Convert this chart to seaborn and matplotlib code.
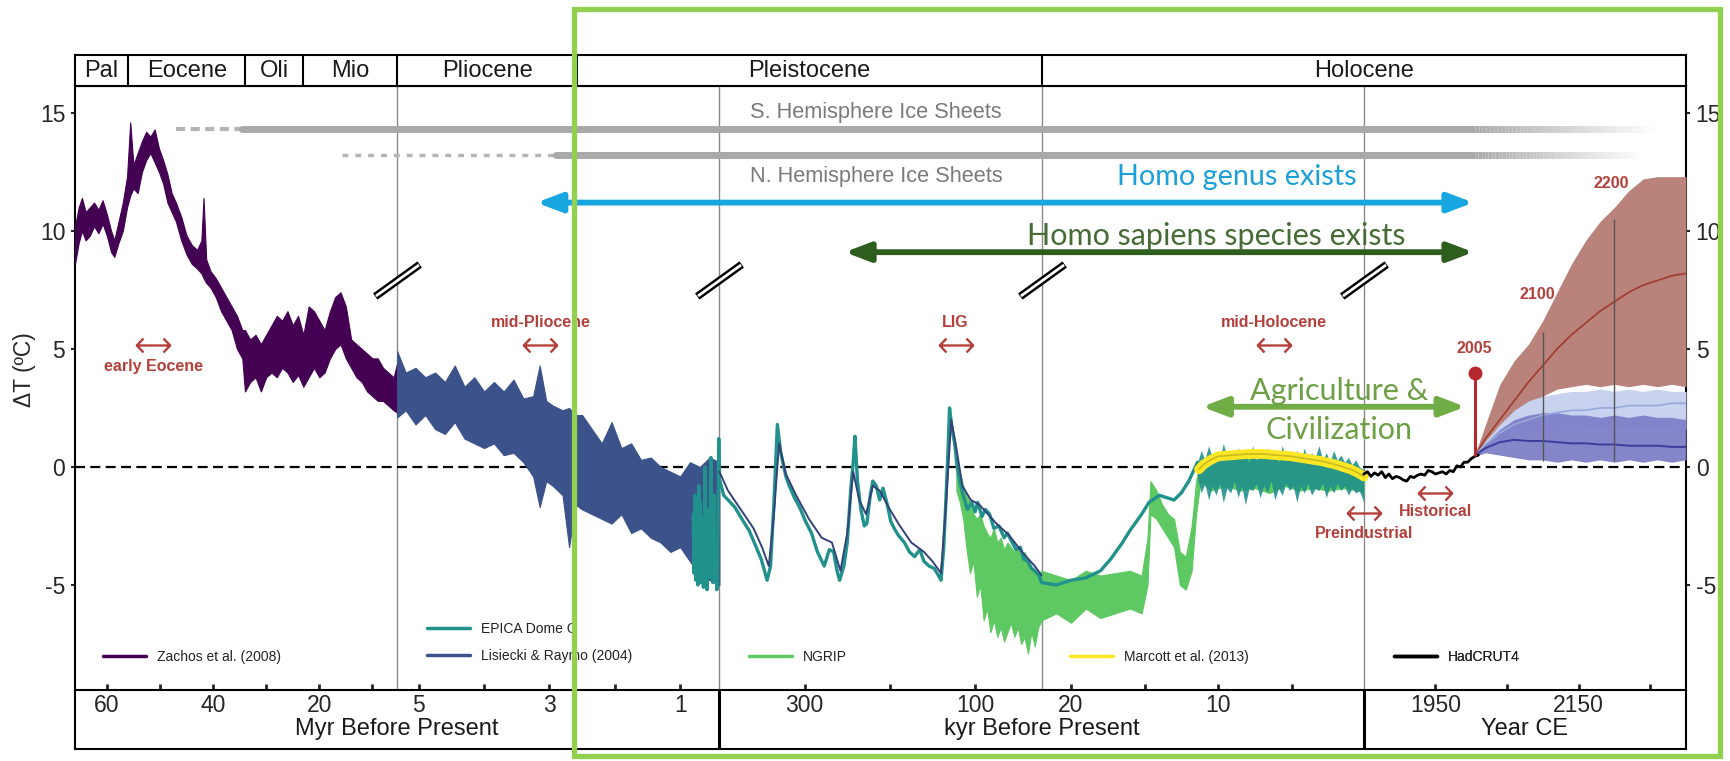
import numpy as np
import matplotlib
matplotlib.use("Agg")
import matplotlib.pyplot as plt
from matplotlib.path import Path
from matplotlib.patches import Rectangle, FancyArrowPatch
from matplotlib.collections import LineCollection
from matplotlib.colors import to_rgb
from matplotlib.lines import Line2D
import seaborn as sns

sns.set_theme(style="white")
plt.rcParams['font.family'] = ['Liberation Sans', 'DejaVu Sans']
plt.rcParams['axes.unicode_minus'] = False

# ------------------------------------------------------------------ data
# Zachos et al. (2008), Myr before present: lower / upper edge of the noisy band
zachos_age = [66.0, 65.3, 64.7, 64.0, 63.2, 62.4, 61.6, 60.8, 60.0, 59.2,
              58.6, 57.8, 57.0, 56.2, 55.6, 55.0, 54.2, 53.4, 52.6, 51.8,
              51.0, 50.2, 49.4, 48.6, 47.8, 47.0, 46.0, 45.0, 44.0, 43.0,
              42.2, 41.8, 41.3, 40.5, 39.5, 38.5, 37.5, 36.5, 35.5, 34.5,
              34.0, 33.0, 32.0, 31.0, 30.0, 29.0, 28.0, 27.0, 26.0, 25.0,
              24.0, 23.0, 22.0, 21.0, 20.0, 19.0, 18.0, 17.0, 16.0, 15.0,
              14.0, 13.0, 12.0, 11.0, 10.0, 9.0, 8.0, 7.0, 6.0, 5.33]
zachos_lo = [8.6, 9.5, 10.0, 9.6, 9.8, 10.2, 9.9, 10.3, 9.8, 9.1,
             8.9, 9.5, 10.0, 11.0, 11.5, 11.8, 11.6, 12.5, 13.0, 13.3,
             12.9, 12.5, 12.0, 11.2, 10.8, 10.4, 9.6, 9.0, 8.6, 8.4,
             8.2, 8.0, 7.8, 7.6, 7.2, 6.6, 6.2, 5.8, 5.0, 4.6,
             3.2, 3.6, 3.8, 3.2, 3.8, 4.0, 3.8, 4.2, 4.0, 3.6,
             3.9, 3.4, 3.8, 4.2, 3.8, 4.0, 4.6, 5.0, 5.2, 4.6,
             4.2, 3.8, 3.6, 3.2, 3.0, 2.8, 2.8, 2.6, 2.4, 2.3]
zachos_hi = [10.2, 11.0, 11.4, 10.8, 11.0, 11.2, 10.9, 11.3, 10.7, 10.0,
             9.6, 10.4, 11.2, 12.3, 14.6, 12.8, 13.3, 13.8, 14.2, 14.0,
             14.3, 13.5, 13.0, 12.4, 11.6, 11.2, 10.6, 9.8, 9.4, 9.2,
             9.6, 11.4, 8.8, 8.3, 8.0, 7.6, 7.2, 6.8, 6.4, 5.8,
             5.8, 5.4, 5.6, 5.2, 5.6, 6.0, 6.4, 6.2, 6.6, 6.0,
             6.4, 5.6, 6.8, 6.6, 6.2, 5.8, 6.6, 7.2, 7.4, 6.8,
             5.4, 5.2, 5.0, 4.8, 4.6, 4.6, 4.2, 4.0, 3.8, 4.4]

# Lisiecki & Raymo (2004), Myr before present (band)
lr04_age = [5.33, 5.20, 5.05, 4.90, 4.75, 4.60, 4.45, 4.30, 4.15, 4.00,
            3.85, 3.70, 3.55, 3.40, 3.25, 3.15, 3.05, 2.95, 2.80, 2.70,
            2.60, 2.50, 2.35, 2.20, 2.05, 1.90, 1.75, 1.60, 1.45, 1.30,
            1.15, 1.00, 0.85, 0.70, 0.55, 0.40]
lr04_lo = [2.1, 2.4, 1.8, 2.2, 1.6, 1.4, 1.9, 1.2, 1.0, 0.8,
           1.0, 0.5, 0.6, 0.2, -0.4, -1.7, -0.6, -0.8, -1.2, -3.4,
           -1.6, -1.8, -2.0, -2.2, -2.4, -2.0, -2.8, -2.6, -3.0, -3.2,
           -3.6, -3.4, -4.0, -4.6, -4.8, -5.0]
lr04_hi = [4.9, 4.0, 4.2, 3.8, 4.0, 3.6, 4.3, 3.4, 3.8, 3.2,
           3.6, 3.2, 3.7, 2.9, 3.0, 4.3, 2.8, 2.6, 2.4, 2.5,
           2.2, 2.2, 1.6, 1.0, 1.9, 0.8, 1.0, 0.3, 0.4, 0.0,
           -0.2, -0.4, 0.2, 0.0, 0.4, 0.2]
# Lisiecki & Raymo, kyr before present (line)
lr04k_kyr = [400, 390, 375, 360, 350, 342, 336, 330, 322, 310,
             295, 280, 268, 258, 250, 243, 236, 228, 220, 212,
             200, 190, 175, 160, 150, 140, 134, 128, 122, 115,
             105, 95, 85, 75, 60, 45, 30, 22]
lr04k_val = [-0.2, -1.0, -1.8, -2.6, -3.4, -4.2, -2.0, 1.0, -0.3, -1.2,
             -2.2, -3.0, -3.2, -4.4, -2.8, -0.2, -1.4, -2.0, -0.8, -1.0,
             -1.8, -2.4, -3.2, -3.6, -4.0, -4.5, -1.5, 2.0, 0.8, -0.8,
             -1.4, -1.6, -2.0, -2.4, -2.9, -3.6, -4.2, -4.6]

# EPICA Dome C, kyr before present
epica_kyr = [800, 790, 775, 760, 745, 730, 715, 700, 690, 675,
             660, 645, 630, 620, 605, 590, 575, 560, 545, 530,
             515, 500, 485, 470, 455, 440, 430, 420, 410, 400,
             395, 382, 372, 365, 358, 351, 344, 340, 336, 332,
             328, 322, 318, 312, 306, 299, 292, 285, 277, 271,
             266, 262, 259, 254, 250, 246, 243, 241, 238, 234,
             230, 227, 223, 220, 216, 212, 208, 203, 199, 195,
             190, 183, 177, 171, 165, 160, 154, 148, 143, 140,
             137, 135, 132, 130, 127, 124, 121, 118, 114, 109,
             104, 100, 97, 92, 88, 83, 78, 72, 66, 62,
             58, 52, 47, 43, 38, 34, 30, 25,
             22, 21, 20, 19, 18, 17.3, 16.5, 16, 15.2, 14.7,
             14, 13.5, 13, 12.5, 12, 11.4]
epica_val = [-2.0, -4.5, -1.2, -4.8, -2.5, -5.0, -0.8, -4.6, -1.5, -4.9,
             -2.2, -5.1, -3.0, 0.0, -3.5, -5.2, -1.8, -4.7, -2.5, 0.4,
             -3.0, -4.9, -1.2, -4.5, -3.2, -5.2, -5.1, -2.0, 1.2, -0.5,
             -1.2, -1.7, -2.3, -2.7, -3.3, -3.9, -4.8, -4.2, -1.5, 1.8,
             0.6, -0.4, -0.8, -1.3, -1.7, -2.3, -2.8, -3.6, -4.2, -3.5,
             -3.6, -4.4, -4.8, -4.2, -3.2, -1.0, 0.2, 1.3, -0.6, -1.8,
             -2.5, -2.4, -1.2, -0.6, -0.8, -1.4, -0.9, -1.6, -2.3, -2.6,
             -2.9, -3.2, -3.6, -3.8, -3.5, -4.0, -4.2, -4.3, -4.6, -4.8,
             -3.5, -2.0, 0.5, 2.5, 1.6, 1.0, 0.0, -0.6, -1.2, -1.8,
             -1.5, -1.9, -1.5, -2.1, -1.8, -2.0, -2.6, -2.5, -3.0, -2.8,
             -3.1, -3.5, -3.4, -3.9, -4.0, -4.3, -4.4, -4.6,
             -4.9, -5.0, -4.8, -4.7, -4.4, -3.9, -3.2, -2.7, -2.0, -1.5,
             -1.2, -1.3, -1.4, -1.1, -0.6, 0.2]
# Holocene part of the ice-core band (kyr)
holo_kyr = [11.4, 11.15, 10.9, 10.65, 10.4, 10.15, 9.9, 9.65, 9.4, 9.15,
            8.9, 8.65, 8.4, 8.15, 7.9, 7.65, 7.4, 7.15, 6.9, 6.65,
            6.4, 6.15, 5.9, 5.65, 5.4, 5.15, 4.9, 4.65, 4.4, 4.15,
            3.9, 3.65, 3.4, 3.15, 2.9, 2.65, 2.4, 2.15, 1.9, 1.65,
            1.4, 1.15, 0.9, 0.65, 0.4, 0.1]
holo_lo = [-0.5, -1.1, -0.7, -1.4, -0.8, -1.2, -0.7, -1.5, -0.9, -1.1,
           -0.6, -1.3, -0.8, -1.6, -0.9, -1.0, -0.7, -1.3, -0.8, -1.1,
           -0.6, -1.4, -0.9, -1.2, -0.7, -1.0, -0.8, -1.5, -0.8, -1.1,
           -0.7, -1.2, -0.9, -1.0, -0.7, -1.3, -0.8, -1.1, -0.7, -1.0,
           -0.8, -1.2, -0.9, -1.1, -1.0, -1.5]
holo_hi = [0.2, 0.7, 0.3, 0.9, 0.4, 0.6, 0.2, 1.0, 0.4, 0.7,
           0.3, 0.8, 0.4, 0.6, 0.2, 0.9, 0.3, 0.6, 0.4, 0.8,
           0.3, 0.6, 0.2, 0.9, 0.4, 0.6, 0.3, 0.7, 0.2, 0.8,
           0.3, 0.6, 0.4, 0.9, 0.3, 0.6, 0.2, 0.7, 0.3, 0.5,
           0.2, 0.4, 0.1, 0.3, 0.0, -0.1]

# NGRIP, kyr before present (band)
ngrip_kyr = [122, 118, 114, 110, 106, 102, 98, 94, 90, 86,
             82, 78, 74, 70, 66, 62, 58, 54, 50, 46,
             42, 38, 34, 30, 26, 22,
             21, 20, 19, 18, 17, 16, 15.2, 14.8, 14.6, 14.2,
             13.8, 13.4, 13.0, 12.6, 12.2, 11.8, 11.5, 11.2, 10.5, 9.5,
             8.5, 7.5, 6.5, 5.5, 4.5, 3.5, 2.5, 1.5, 0.5, 0.1]
ngrip_lo = [-1.0, -1.5, -2.2, -3.5, -4.5, -4.0, -5.5, -5.0, -6.5, -6.0,
            -7.0, -6.5, -7.2, -6.8, -7.4, -7.0, -6.6, -7.2, -6.8, -7.5,
            -7.2, -7.9, -7.0, -7.6, -6.8, -6.5,
            -6.2, -6.6, -6.0, -6.4, -6.2, -6.0, -6.2, -5.0, -2.0, -2.2,
            -2.6, -3.0, -3.4, -5.0, -5.2, -4.4, -2.0, -0.6, -1.0, -0.8,
            -1.0, -0.9, -1.1, -0.8, -1.0, -0.9, -1.0, -0.9, -1.0, -1.1]
ngrip_hi = [0.5, -0.2, -0.8, -1.2, -1.5, -2.0, -2.2, -2.0, -2.5, -2.8,
            -3.0, -2.6, -3.2, -3.0, -3.5, -3.2, -3.4, -3.6, -3.4, -3.8,
            -3.6, -4.0, -4.2, -4.4, -4.5, -4.4,
            -4.6, -4.8, -4.4, -4.6, -4.5, -4.4, -4.6, -3.0, -0.6, -1.0,
            -1.6, -2.0, -2.2, -3.6, -3.8, -2.5, -0.6, 0.3, 0.4, 0.3,
            0.4, 0.3, 0.4, 0.3, 0.3, 0.2, 0.2, 0.1, 0.0, -0.2]

# Marcott et al. (2013), kyr
marcott_kyr = [11.3, 11.0, 10.5, 10.0, 9.0, 8.0, 7.0, 6.0, 5.0, 4.0, 3.0, 2.0, 1.0, 0.5, 0.1]
marcott_val = [-0.1, 0.1, 0.3, 0.45, 0.5, 0.55, 0.55, 0.5, 0.45, 0.35, 0.25, 0.1, -0.1, -0.25, -0.4]

# HadCRUT4, year CE
had_year = [1850, 1855, 1860, 1865, 1870, 1875, 1880, 1885, 1890, 1895, 1900,
            1905, 1910, 1915, 1920, 1925, 1930, 1935, 1940, 1945, 1950, 1955,
            1960, 1965, 1970, 1975, 1980, 1985, 1990, 1995, 2000, 2005, 2010]
had_val = [-0.3, -0.2, -0.4, -0.25, -0.35, -0.2, -0.45, -0.3, -0.5, -0.4, -0.45,
           -0.55, -0.6, -0.4, -0.45, -0.35, -0.3, -0.35, -0.15, -0.2, -0.3, -0.25,
           -0.2, -0.3, -0.15, -0.2, 0.05, 0.0, 0.2, 0.2, 0.35, 0.45, 0.5]

# Projections, year CE
proj_year = [2005, 2020, 2040, 2060, 2080, 2100, 2120, 2140, 2160, 2180, 2200, 2220, 2240, 2260, 2280, 2300]
high_hi = [0.5, 1.8, 3.5, 4.5, 5.2, 6.2, 7.4, 8.6, 9.6, 10.4, 11.0, 11.7, 12.2, 12.3, 12.3, 12.3]
high_lo = [0.45, 0.9, 1.5, 2.1, 2.6, 3.0, 3.3, 3.4, 3.5, 3.4, 3.5, 3.4, 3.5, 3.4, 3.5, 3.4]
high_mid = [0.5, 1.2, 2.0, 2.8, 3.6, 4.3, 5.0, 5.6, 6.1, 6.6, 7.0, 7.4, 7.7, 7.9, 8.1, 8.2]
mid_hi = [0.5, 1.1, 1.8, 2.4, 2.8, 3.0, 3.1, 3.2, 3.2, 3.3, 3.2, 3.3, 3.2, 3.3, 3.2, 3.2]
mid_lo = [0.45, 0.8, 1.1, 1.3, 1.4, 1.5, 1.6, 1.6, 1.6, 1.7, 1.6, 1.7, 1.6, 1.7, 1.6, 1.6]
mid_mid = [0.5, 0.95, 1.45, 1.8, 2.0, 2.2, 2.3, 2.4, 2.4, 2.5, 2.5, 2.6, 2.6, 2.6, 2.7, 2.7]
low_hi = [0.5, 1.0, 1.6, 2.0, 2.2, 2.3, 2.3, 2.2, 2.2, 2.1, 2.2, 2.1, 2.2, 2.1, 2.1, 2.0]
low_lo = [0.45, 0.6, 0.5, 0.4, 0.3, 0.3, 0.2, 0.3, 0.2, 0.3, 0.2, 0.3, 0.2, 0.3, 0.2, 0.3]
low_mid = [0.5, 0.8, 1.05, 1.15, 1.1, 1.1, 1.05, 1.0, 1.0, 0.95, 0.95, 0.9, 0.9, 0.9, 0.85, 0.85]
proj_mark_year = [2100, 2200]
proj_mark_top = [5.7, 10.5]
proj_mark_bottom = [0.25, 0.25]
marker_2005_year = 2005
marker_2005_base = 0.45
marker_2005_top = 4.0

# Epochs (header)
era_names = ["Pal", "Eocene", "Oli", "Mio", "Pliocene", "Pleistocene", "Holocene"]
era_start_myr = [66.0, 56.0, 33.9, 23.03, 5.33, 2.58]
holocene_start_kyr = 22
axis_end_ce = 2300

# Axis ticks
tick_myr_a = [60, 40, 20]
tick_myr_a_minor = [50, 30, 10]
tick_myr_b = [5, 3, 1]
tick_myr_b_minor = [4, 2]
tick_kyr_c = [300, 100]
tick_kyr_c_minor = [200]
tick_kyr_d = [20, 10]
tick_kyr_d_minor = [15, 5]
tick_ce = [1950, 2150]
tick_ce_minor = [2050, 2250]
y_ticks = [-5, 0, 5, 10, 15]

# Ice sheets
ice_s_dash_myr, ice_s_solid_myr, ice_s_y, ice_s_end_ce = 47.0, 34.5, 14.3, 2260
ice_n_dot_myr, ice_n_solid_myr, ice_n_y, ice_n_end_ce = 15.7, 2.9, 13.2, 2240
ice_fade_start_ce = 2000

# Human arrows: (start, end year CE, y)
homo_genus_myr, homo_genus_end, homo_genus_y = 3.2, 2003, 11.2
homo_sap_kyr, homo_sap_end, homo_sap_y = 253, 2003, 9.1
agri_kyr, agri_end, agri_y = 11.1, 1992, 2.55
break_y = 7.9

# ------------------------------------------------------------------ x scale
def u_myr(a):
    return 1950.0 - np.asarray(a, float) * 1e6


def u_kyr(a):
    return 1950.0 - np.asarray(a, float) * 1e3


def u_ce(y):
    return np.asarray(y, float)


U_BR = np.array([u_myr(66.0), u_myr(5.33), u_kyr(400), u_kyr(22), u_ce(1850), u_ce(2300)], float)
P_BR = np.array([0.0, 0.2, 0.4, 0.6, 0.8, 1.0])


def fwd(u):
    return np.interp(np.asarray(u, float), U_BR, P_BR)


def inv(p):
    return np.interp(np.asarray(p, float), P_BR, U_BR)


# ------------------------------------------------------------------ figure
W, H = 1731, 761
fig = plt.figure(figsize=(W / 100, H / 100), dpi=100)


def box(x0, y0, x1, y1):
    return [x0 / W, 1 - y1 / H, (x1 - x0) / W, (y1 - y0) / H]


L, R = 75, 1686
axb = fig.add_axes(box(L, 690, R, 749))
ax = fig.add_axes(box(L, 86, R, 690))
axh = fig.add_axes(box(L, 55, R, 86))
for a in (axb, ax, axh):
    a.set_xscale('function', functions=(fwd, inv))
    a.set_autoscale_on(False)
    a.set_xlim(U_BR[0], U_BR[-1])
    for s in a.spines.values():
        s.set_color('black')
        s.set_linewidth(1.5)
axb.set_facecolor('none')
ax.set_facecolor('none')
ax.set_ylim(-9.45, 16.14)

C_ZACHOS, C_LR04, C_EPICA, C_NGRIP, C_MARCOTT = '#440154', '#3b528b', '#21918c', '#5ec962', '#fde725'
RED = '#b3403b'

# vertical segment lines and zero line
for ub in U_BR[1:5]:
    ax.axvline(ub, color='#8a8a8a', lw=1.0, zorder=1)
ax.axhline(0, color='black', lw=1.6, dashes=(4.5, 2.4), zorder=2)

# ice sheets
def fade_bar(u0, u1, y, lw, color, n=50):
    pp = np.linspace(fwd(u0), fwd(u1), n + 1)
    uu = inv(pp)
    segs = [[(uu[i], y), (uu[i + 1], y)] for i in range(n)]
    rgb = to_rgb(color)
    cols = [(*rgb, a) for a in np.linspace(1, 0, n)]
    ax.add_collection(LineCollection(segs, colors=cols, linewidths=lw, capstyle='butt', zorder=2),
                      autolim=False)

GRAY = '#a9a9a9'
ax.plot([u_myr(ice_s_dash_myr), u_myr(ice_s_solid_myr)], [ice_s_y, ice_s_y], color='#b5b5b5',
        lw=3, dashes=(2.2, 1.3), zorder=2)
ax.plot([u_myr(ice_s_solid_myr), u_ce(ice_fade_start_ce)], [ice_s_y, ice_s_y], color=GRAY,
        lw=5, solid_capstyle='round', zorder=2)
fade_bar(u_ce(ice_fade_start_ce), u_ce(ice_s_end_ce), ice_s_y, 5, GRAY)
ax.plot([u_myr(ice_n_dot_myr), u_myr(ice_n_solid_myr)], [ice_n_y, ice_n_y], color='#b5b5b5',
        lw=2.5, dashes=(1.7, 2.0), zorder=2)
ax.plot([u_myr(ice_n_solid_myr), u_ce(ice_fade_start_ce)], [ice_n_y, ice_n_y], color=GRAY,
        lw=5, solid_capstyle='round', zorder=2)
fade_bar(u_ce(ice_fade_start_ce), u_ce(ice_n_end_ce), ice_n_y, 5, GRAY)
ax.text(u_kyr(216), 15.0, "S. Hemisphere Ice Sheets", color='#7a7a7a', fontsize=15.7,
        ha='center', va='center', zorder=3)
ax.text(u_kyr(216), 12.3, "N. Hemisphere Ice Sheets", color='#7a7a7a', fontsize=15.7,
        ha='center', va='center', zorder=3)

# proxy records
ax.fill_between(u_myr(zachos_age), zachos_lo, zachos_hi, color=C_ZACHOS, lw=0.8, zorder=4)
ax.fill_between(u_myr(lr04_age), lr04_lo, lr04_hi, color=C_LR04, lw=0.8, zorder=4)
ax.fill_between(u_kyr(ngrip_kyr), ngrip_lo, ngrip_hi, color=C_NGRIP, lw=0.8, zorder=4)
sns.lineplot(x=u_kyr(epica_kyr), y=epica_val, ax=ax, color=C_EPICA, lw=2.4,
             estimator=None, sort=False, zorder=5)
ax.fill_between(u_kyr(holo_kyr), holo_lo, holo_hi, color=C_EPICA, lw=0, alpha=0.9, zorder=5)
sns.lineplot(x=u_kyr(lr04k_kyr), y=lr04k_val, ax=ax, color='#34427a', lw=1.4,
             estimator=None, sort=False, zorder=6)
sns.lineplot(x=u_kyr(marcott_kyr), y=marcott_val, ax=ax, color=C_MARCOTT, lw=7,
             estimator=None, sort=False, zorder=7)
sns.lineplot(x=u_kyr(marcott_kyr), y=marcott_val, ax=ax, color='#c9b81f', lw=1.2,
             estimator=None, sort=False, zorder=7)
sns.lineplot(x=u_ce(had_year), y=had_val, ax=ax, color='black', lw=2.0,
             estimator=None, sort=False, zorder=8)

# projections
up = u_ce(proj_year)
ax.fill_between(up, high_lo, high_hi, color='#b9827a', lw=0, zorder=3)
ax.fill_between(up, mid_lo, mid_hi, color='#c8d2ee', lw=0, zorder=3)
ax.fill_between(up, low_lo, low_hi, color='#7f7fc8', lw=0, alpha=0.95, zorder=3)
sns.lineplot(x=up, y=high_mid, ax=ax, color='#a23a30', lw=1.2, estimator=None, sort=False, zorder=4)
sns.lineplot(x=up, y=mid_mid, ax=ax, color='#98a8da', lw=1.2, estimator=None, sort=False, zorder=4)
sns.lineplot(x=up, y=low_mid, ax=ax, color='#3c3c9c', lw=1.4, estimator=None, sort=False, zorder=4)
ax.vlines(u_ce(proj_mark_year), proj_mark_bottom, proj_mark_top, color='#555555', lw=1.0, zorder=4)
ax.vlines(u_ce([marker_2005_year]), [marker_2005_base], [marker_2005_top], color='#b5282e', lw=2.2, zorder=9)
ax.plot(u_ce([marker_2005_year]), [marker_2005_top], 'o', color='#b5282e', ms=9, zorder=9)

# break marks
brk = Path([(-1.0, -0.72), (1.0, 0.72)], [Path.MOVETO, Path.LINETO])
ax.plot(U_BR[1:5], np.full(4, break_y), ls='none', marker=brk, ms=32, mfc='none',
        mec='black', mew=5.5, zorder=10)
ax.plot(U_BR[1:5], np.full(4, break_y), ls='none', marker=brk, ms=31, mfc='none',
        mec='white', mew=2.0, zorder=11)

# red period labels with double-headed arrow markers
dbl = Path([(-1, 0), (1, 0), (-0.6, 0.42), (-1, 0), (-0.6, -0.42), (0.6, 0.42), (1, 0), (0.6, -0.42)],
           [Path.MOVETO, Path.LINETO, Path.MOVETO, Path.LINETO, Path.LINETO,
            Path.MOVETO, Path.LINETO, Path.LINETO])
period_names = ["early Eocene", "mid-Pliocene", "LIG", "mid-Holocene", "Preindustrial", "Historical"]
period_u = [u_myr(51.3), u_myr(3.14), u_kyr(123), u_kyr(6.2), u_ce(1850), u_ce(1950)]
period_arrow_y = [5.17, 5.17, 5.17, 5.17, -1.95, -1.1]
period_label_y = [4.24, 6.1, 6.1, 6.1, -2.8, -1.9]
ax.plot(period_u, period_arrow_y, ls='none', marker=dbl, ms=24, mfc='none', mec=RED, mew=1.7, zorder=9)
for nm, uu, ly in zip(period_names, period_u, period_label_y):
    ax.text(uu, ly, nm, color=RED, fontsize=11.5, fontweight='bold', ha='center', va='center', zorder=9)
ax.text(u_ce(2005), 5.0, "2005", color=RED, fontsize=11.5, fontweight='bold', ha='center', va='center', zorder=9)
ax.text(u_ce(2093), 7.3, "2100", color=RED, fontsize=11.5, fontweight='bold', ha='center', va='center', zorder=9)
ax.text(u_ce(2195), 12.0, "2200", color=RED, fontsize=11.5, fontweight='bold', ha='center', va='center', zorder=9)

# human-history arrows
ANN_FONT = ['Lato', 'DejaVu Sans']


def harrow(u0, u1, y, color):
    arr = FancyArrowPatch((u0, y), (u1, y), transform=ax.transData,
                          arrowstyle='<|-|>,head_length=1.0,head_width=0.38', mutation_scale=15,
                          lw=4.2, color=color, shrinkA=0, shrinkB=0, zorder=12)
    ax.add_artist(arr)


harrow(u_myr(homo_genus_myr), u_ce(homo_genus_end), homo_genus_y, '#17a6e0')
harrow(u_kyr(homo_sap_kyr), u_ce(homo_sap_end), homo_sap_y, '#2e5e1e')
harrow(u_kyr(agri_kyr), u_ce(agri_end), agri_y, '#70ad47')
ax.text(u_kyr(8.7), 12.3, "Homo genus exists", color='#1a9fd9', fontsize=20.7, family=ANN_FONT,
        ha='center', va='center', zorder=12)
ax.text(u_kyr(10.1), 9.8, "Homo sapiens species exists", color='#476b35', fontsize=22, family=ANN_FONT,
        ha='center', va='center', zorder=12)
ax.text(u_kyr(1.8), 3.2, "Agriculture &", color='#6d9f45', fontsize=22, family=ANN_FONT,
        ha='center', va='center', zorder=12)
ax.text(u_kyr(1.8), 1.55, "Civilization", color='#6d9f45', fontsize=22, family=ANN_FONT,
        ha='center', va='center', zorder=12)

# legends, one per axis segment
leg_kw = dict(frameon=False, fontsize=10, handlelength=3.1, handletextpad=0.8,
              loc='center left', borderaxespad=0, borderpad=0, labelspacing=0.95, labelcolor='#222222')
legs = [
    ([Line2D([], [], color=C_ZACHOS, lw=2.5)], ["Zachos et al. (2008)"], 0.0174, 0.0546),
    ([Line2D([], [], color=C_EPICA, lw=2.5), Line2D([], [], color=C_LR04, lw=2.5)],
     ["EPICA Dome C", "Lisiecki & Raymo (2004)"], 0.2185, 0.0785),
    ([Line2D([], [], color=C_NGRIP, lw=2.5)], ["NGRIP"], 0.4184, 0.0546),
    ([Line2D([], [], color=C_MARCOTT, lw=2.5)], ["Marcott et al. (2013)"], 0.6176, 0.0546),
    ([Line2D([], [], color='black', lw=2.5)], ["HadCRUT4"], 0.8188, 0.0546),
]
for hnd, lab, lx, ly in legs:
    lg = ax.legend(hnd, lab, bbox_to_anchor=(lx, ly), **leg_kw)
    ax.add_artist(lg)

# axes ticks
major_u = np.concatenate([u_myr(tick_myr_a), u_myr(tick_myr_b), u_kyr(tick_kyr_c),
                          u_kyr(tick_kyr_d), u_ce(tick_ce)])
major_lab = [str(v) for v in tick_myr_a + tick_myr_b + tick_kyr_c + tick_kyr_d + tick_ce]
minor_u = np.concatenate([u_myr(tick_myr_a_minor), u_myr(tick_myr_b_minor), u_kyr(tick_kyr_c_minor),
                          u_kyr(tick_kyr_d_minor), u_ce(tick_ce_minor)])
ax.set_xticks(major_u, major_lab)
ax.set_xticks(minor_u, minor=True)
ax.tick_params(axis='x', which='both', direction='in', length=4, width=2.0, color='#222222',
               bottom=True, top=False, labelbottom=True, pad=3, labelsize=16.5)
ax.set_yticks(y_ticks)
ax.tick_params(axis='y', which='both', direction='out', length=3, width=1.5, left=True, right=True,
               labelleft=True, labelright=True, labelsize=16.5, pad=4)
ax.set_ylabel("ΔT (ºC)", fontsize=16.5)
ax.yaxis.set_label_coords(-0.024, 0.53)
ax.set_xlabel("")

# header
for a in (axh, axb):
    a.set_ylim(0, 1)
    a.set_xticks([])
    a.set_yticks([])
    a.tick_params(which='both', bottom=False, left=False, labelbottom=False, labelleft=False)
era_edges = list(u_myr(era_start_myr)) + [float(u_kyr(holocene_start_kyr)), float(u_ce(axis_end_ce))]
for e in era_edges[1:-1]:
    axh.axvline(e, color='black', lw=1.5)
for i, nm in enumerate(era_names):
    uc = inv((fwd(era_edges[i]) + fwd(era_edges[i + 1])) / 2)
    axh.text(uc, 0.47, nm, ha='center', va='center', fontsize=17, color='#1a1a1a')

# bottom box
axb.spines['top'].set_visible(False)
axb.axvline(float(u_kyr(400)), color='black', lw=2.2)
axb.axvline(float(u_ce(1850)), color='black', lw=2.2)
for txt, fx in [("Myr Before Present", 0.2), ("kyr Before Present", 0.6), ("Year CE", 0.9)]:
    axb.text(fx, 0.34, txt, transform=axb.transAxes, ha='center', va='center',
             fontsize=17, color='#1a1a1a')

ax.set_xlim(U_BR[0], U_BR[-1])
ax.set_ylim(-9.45, 16.14)

# green highlight box (starts at the Pleistocene boundary)
x_left = ax.transData.transform((float(u_myr(2.58)), 0.0))[0] - 3
gtop, gbot, gright = 9, 756, 1720
fig.add_artist(Rectangle((x_left / W, 1 - gbot / H), (gright - x_left) / W, (gbot - gtop) / H,
                         transform=fig.transFigure, fill=False, ec='#92d050', lw=3.8, zorder=20))

fig.savefig("out.png", dpi=100)
